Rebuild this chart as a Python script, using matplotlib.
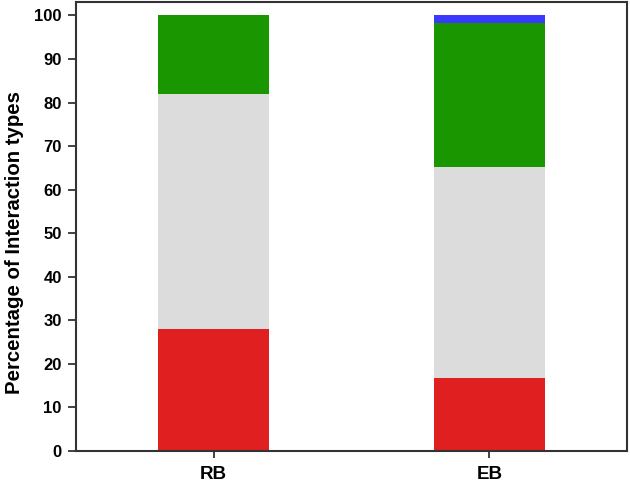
#!/usr/bin/env python3
import numpy as np
import matplotlib.pyplot as plt

###########################################################################
groups = ["RB", "EB"]
red_vals = [28.0, 16.6]
gray_vals = [54.0, 48.6]
green_vals = [18.0, 33.1]
blue_vals = [0.0, 1.7]
colors = ["#E02020", "#DCDCDC", "#1A9600", "#3A3AFF"]

###########################################################################
plt.rcParams['font.family'] = ['Liberation Sans', 'DejaVu Sans']
plt.rcParams['font.weight'] = 'bold'

fig = plt.figure(figsize=(6.3, 4.83), dpi=100)
ax = fig.add_axes([75.7/630, 32.3/483, 551.6/630, 448.7/483])

x = np.arange(len(groups))
bottom = np.zeros(len(groups))
for vals, c in zip([red_vals, gray_vals, green_vals, blue_vals], colors):
	ax.bar(x, vals, width=0.4, bottom=bottom, color=c, edgecolor='none')
	bottom += np.array(vals)

###########################################################################
ax.set_xlim(-0.5, 1.5)
ax.set_ylim(0, 103.1)
ax.set_yticks(range(0, 101, 10))
ax.set_xticks(x)
ax.set_xticklabels(groups, fontsize=13.5, fontweight='bold')
ax.tick_params(axis='y', labelsize=12, direction='out', length=5.5, width=1.2, colors='#222222', pad=4.5)
ax.tick_params(axis='x', direction='out', length=5, width=1.2, colors='#222222', pad=6)
for lab in ax.get_yticklabels() + ax.get_xticklabels():
	lab.set_color('black')
	lab.set_fontweight('bold')
for s in ax.spines.values():
	s.set_linewidth(1.5)
	s.set_color('#333333')
ax.set_ylabel("Percentage of Interaction types", fontsize=14.7, fontweight='bold')
ax.yaxis.set_label_coords(-0.093, 0.463)

fig.savefig("out.png", dpi=100)
plt.close()
